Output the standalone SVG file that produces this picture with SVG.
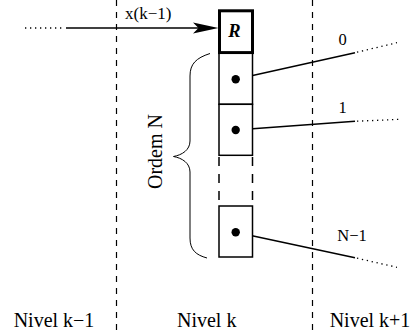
<svg xmlns="http://www.w3.org/2000/svg" width="412" height="335" viewBox="0 0 412 335" font-family="'Liberation Serif', 'DejaVu Serif', serif">
<style>
.lbl{font-size:20px}
.sm{font-size:16.5px}
.cell{fill:#fff;stroke:#000;stroke-width:1.5}
.sep{stroke:#000;stroke-width:1.2;stroke-dasharray:6 6;fill:none}
.ln{stroke:#000;stroke-width:1.5;fill:none}
.dot{stroke:#000;stroke-width:1.3;stroke-dasharray:1.3 3.7;fill:none}
</style>
<rect width="412" height="335" fill="#fff"/>
<g id="separators">
<line class="sep" x1="116.5" y1="0" x2="116.5" y2="335"/>
<line class="sep" x1="312.5" y1="0" x2="312.5" y2="335"/>
</g>
<g id="connectors">
<line class="dot" x1="25" y1="28" x2="64" y2="28"/>
<line class="ln" x1="66" y1="28" x2="200" y2="28"/>
<polygon points="218.5,28 193,22.5 198.5,28 193,33.5" fill="#000"/>
<line class="ln" x1="235.7" y1="79.3" x2="355" y2="52.7"/>
<line class="dot" x1="357" y1="52.2" x2="397" y2="42.7"/>
<line class="ln" x1="235.7" y1="130" x2="355" y2="121.3"/>
<line class="dot" x1="357" y1="121.2" x2="400" y2="119.3"/>
<line class="ln" x1="235.7" y1="232.3" x2="355" y2="257.7"/>
<line class="dot" x1="357" y1="258.2" x2="397" y2="267.3"/>
</g>
<g id="R">
<rect x="219.5" y="10.8" width="33" height="41.8" fill="#fff" stroke="#000" stroke-width="3"/>
<text x="234.5" y="36.7" font-family="'Liberation Serif', serif" font-size="18.5" font-weight="bold" font-style="italic" text-anchor="middle">R</text>
</g>
<g id="cell0">
<rect class="cell" x="219" y="53.3" width="33.5" height="51"/>
<circle cx="235.7" cy="79.3" r="4.2" fill="#000"/>
</g>
<g id="cell1">
<rect class="cell" x="219" y="104.3" width="33.5" height="51"/>
<circle cx="235.7" cy="130" r="4.2" fill="#000"/>
</g>
<g id="gap">
<path d="M219,157 V205 M252.5,157 V205" stroke="#000" stroke-width="1.5" stroke-dasharray="9 8" fill="none"/>
</g>
<g id="cellN1">
<rect class="cell" x="219" y="206" width="33.5" height="51"/>
<circle cx="235.7" cy="232.3" r="4.2" fill="#000"/>
</g>
<g id="brace">
<path d="M210,53.5 C196,58 190,64 190,76 L190,141 C190,150 182,155 173.5,156.5 C182,158 190,163 190,172 L190,238 C190,250 196,255 207,258" fill="none" stroke="#000" stroke-width="1"/>
<text font-family="'Liberation Serif', serif" font-size="20" transform="translate(161.5,151.5) rotate(-90)" text-anchor="middle">Ordem N</text>
</g>
<g id="labels" font-family="'Liberation Serif', serif">
<text x="125" y="18.5" font-size="17">x(k−1)</text>
<text font-size="16.5" x="342.5" y="45" text-anchor="middle">0</text>
<text font-size="16.5" x="342.5" y="113" text-anchor="middle">1</text>
<text font-size="16.5" x="352" y="240.7" text-anchor="middle">N−1</text>
<text font-size="20" x="54" y="326.7" text-anchor="middle">Nivel k−1</text>
<text font-size="20" x="206.7" y="326.7" text-anchor="middle">Nivel k</text>
<text font-size="20" x="370" y="326.7" text-anchor="middle">Nivel k+1</text>
</g>
</svg>
